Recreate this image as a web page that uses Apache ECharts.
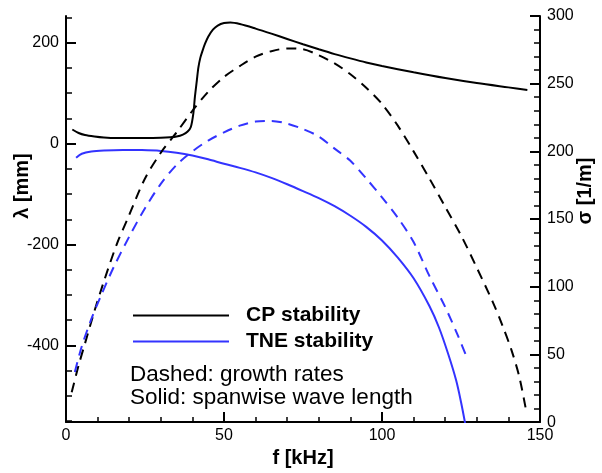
<!DOCTYPE html>
<html>
<head>
<meta charset="utf-8">
<title>CP / TNE stability</title>
<script src="https://cdn.jsdelivr.net/npm/echarts@6/dist/echarts.min.js"></script>
<style>
  html, body { margin: 0; padding: 0; background: #fff; }
  #chart { width: 602px; height: 473px; }
</style>
</head>
<body>
<div id="chart"></div>
<script>
// Frequency f [kHz] and results of the two stability analyses.
// Solid curves: spanwise wave length lambda [mm] (left axis).
// Dashed curves: growth rate sigma [1/m] (right axis).

const fCpLambda = [2, 4, 6, 9, 12, 16, 20, 25, 30, 33, 35, 37, 38.5, 39.5, 40.3, 40.8, 41.4, 41.9, 42.5, 43.2, 44, 45, 46.5, 48, 50, 52, 55, 60, 65, 70, 75, 80, 85, 90, 95, 100, 110, 120, 130, 140, 146];
const cpLambda  = [28, 21, 17, 14, 12, 11, 11, 11, 11.5, 12.5, 14, 18, 24, 33, 60, 93, 125, 151, 170, 184, 198, 212, 226, 234, 239, 240, 237, 228, 218, 207.5, 197, 187, 177.5, 169, 161, 154, 141.5, 130, 120, 111.5, 106.5];

const fTneLambda = [3.2, 5, 8, 12, 18, 24, 30, 35, 40, 45, 50, 55, 60, 65, 70, 75, 80, 85, 90, 95, 100, 105, 110, 115, 118, 121, 123.5, 125, 126.3];
const tneLambda  = [-28, -20, -15.5, -13.5, -12.5, -12.8, -14.5, -18, -23.5, -31, -40, -48, -57, -68, -80.5, -94, -108, -124, -143, -165, -192, -226, -267, -322, -364, -418, -470, -512, -554];

const fCpSigma = [1.8, 4, 6, 9, 12, 16, 20, 25, 30, 35, 40, 45, 50, 55, 60, 65, 70, 75, 80, 85, 90, 95, 100, 105, 110, 115, 120, 125, 130, 135, 138, 141, 143.5, 145.8];
const cpSigma  = [22, 42, 58, 82, 104, 131, 153, 180, 199, 214, 230, 244, 255, 263, 270, 274, 276, 275.5, 271, 265, 257, 247, 235, 219, 200, 180, 159, 138, 114, 89, 72, 53, 33, 6];

const fTneSigma = [2.8, 5, 8, 11, 15, 20, 25, 30, 35, 40, 45, 50, 55, 60, 65, 70, 75, 80, 85, 90, 95, 100, 105, 110, 115, 120, 124, 126.8];
const tneSigma  = [37, 56, 76, 93, 114, 137, 158, 176, 190, 200, 208, 214, 219, 222, 222.5, 220.5, 216.5, 211, 202, 193, 180, 166, 151, 133, 108, 85, 64, 48];

// Axis tick positions
const fTicks = [0, 50, 100, 150];
const lambdaTicks = [-400, -200, 0, 200];
const lambdaMinorTicks = [-550, -500, -450, -350, -300, -250, -150, -100, -50, 50, 100, 150, 250];
const sigmaTicks = [0, 50, 100, 150, 200, 250, 300];

const seriesNames = ['CP stability', 'TNE stability'];
const noteLines = ['Dashed: growth rates', 'Solid: spanwise wave length'];

const FONT = '"Liberation Sans", Arial, Helvetica, sans-serif';
const BLACK = '#000000';
const BLUE = '#3333ff';

const pairs = (xs, ys) => xs.map((x, i) => [x, ys[i]]);

const chart = echarts.init(document.getElementById('chart'), null, { renderer: 'canvas' });

const tickLine = (w) => ({ color: BLACK, width: w });

const curve = (name, axis, xs, ys, color, dashed) => ({
  name: name,
  type: 'line',
  yAxisIndex: axis,
  data: pairs(xs, ys),
  symbol: 'none',
  smooth: 0.3,
  lineStyle: { color: color, width: 2, type: dashed ? [10, 7] : 'solid' },
  itemStyle: { color: color }
});

chart.setOption({
  animation: false,
  backgroundColor: '#ffffff',
  grid: { left: 66, right: 62, top: 16, bottom: 38 },
  legend: {
    data: seriesNames,
    icon: 'rect',
    orient: 'vertical',
    left: 133,
    top: 305,
    padding: 0,
    itemWidth: 96,
    itemHeight: 2,
    itemGap: 5,
    selectedMode: false,
    textStyle: {
      fontFamily: FONT,
      fontSize: 21,
      fontWeight: 'bold',
      color: BLACK,
      padding: [0, 0, 0, 12]
    }
  },
  xAxis: {
    type: 'value',
    min: fTicks[0],
    max: fTicks[fTicks.length - 1],
    interval: 50,
    name: 'f [kHz]',
    nameLocation: 'middle',
    nameGap: 24,
    nameTextStyle: { fontFamily: FONT, fontSize: 20, fontWeight: 'bold', color: BLACK, verticalAlign: 'top' },
    axisLine: { onZero: false, lineStyle: tickLine(2) },
    axisTick: { inside: true, length: 10, lineStyle: tickLine(2) },
    minorTick: { show: true, splitNumber: 5, length: 5, lineStyle: tickLine(1.5) },
    splitLine: { show: false },
    minorSplitLine: { show: false },
    axisLabel: { fontFamily: FONT, fontSize: 16, color: BLACK, margin: 5 }
  },
  yAxis: [
    {
      type: 'value',
      position: 'left',
      min: -552,
      max: 253,
      axisLine: { show: true, onZero: false, lineStyle: tickLine(2) },
      axisTick: { inside: true, length: 10, lineStyle: tickLine(2), customValues: lambdaTicks },
      axisLabel: { fontFamily: FONT, fontSize: 16, color: BLACK, margin: 7, customValues: lambdaTicks },
      splitLine: { show: false }
    },
    {
      type: 'value',
      position: 'left',
      min: -552,
      max: 253,
      axisLine: { show: false, onZero: false },
      axisTick: { inside: true, length: 6, lineStyle: tickLine(1.5), customValues: lambdaMinorTicks },
      axisLabel: { show: false },
      splitLine: { show: false }
    },
    {
      type: 'value',
      position: 'right',
      min: sigmaTicks[0],
      max: sigmaTicks[sigmaTicks.length - 1],
      interval: 50,
      axisLine: { show: true, onZero: false, lineStyle: tickLine(2) },
      axisTick: { inside: true, length: 10, lineStyle: tickLine(2) },
      minorTick: { show: true, splitNumber: 5, length: 6, lineStyle: tickLine(1.5) },
      axisLabel: { fontFamily: FONT, fontSize: 16, color: BLACK, margin: 7 },
      splitLine: { show: false },
      minorSplitLine: { show: false }
    }
  ],
  graphic: [
    {
      type: 'text', x: 22, y: 186, rotation: Math.PI / 2,
      style: { text: 'λ [mm]', font: 'bold 20px ' + FONT, fill: BLACK, align: 'center', verticalAlign: 'middle' }
    },
    {
      type: 'text', x: 585, y: 191, rotation: Math.PI / 2,
      style: { text: 'σ [1/m]', font: 'bold 20px ' + FONT, fill: BLACK, align: 'center', verticalAlign: 'middle' }
    },
    {
      type: 'text', x: 130, y: 375,
      style: { text: noteLines[0], font: '22.5px ' + FONT, fill: BLACK, align: 'left', verticalAlign: 'middle' }
    },
    {
      type: 'text', x: 130, y: 398,
      style: { text: noteLines[1], font: '22.5px ' + FONT, fill: BLACK, align: 'left', verticalAlign: 'middle' }
    }
  ],
  series: [
    curve(seriesNames[0], 0, fCpLambda, cpLambda, BLACK, false),
    curve(seriesNames[1], 0, fTneLambda, tneLambda, BLUE, false),
    curve('CP growth rate', 2, fCpSigma, cpSigma, BLACK, true),
    curve('TNE growth rate', 2, fTneSigma, tneSigma, BLUE, true)
  ]
});
</script>
</body>
</html>
